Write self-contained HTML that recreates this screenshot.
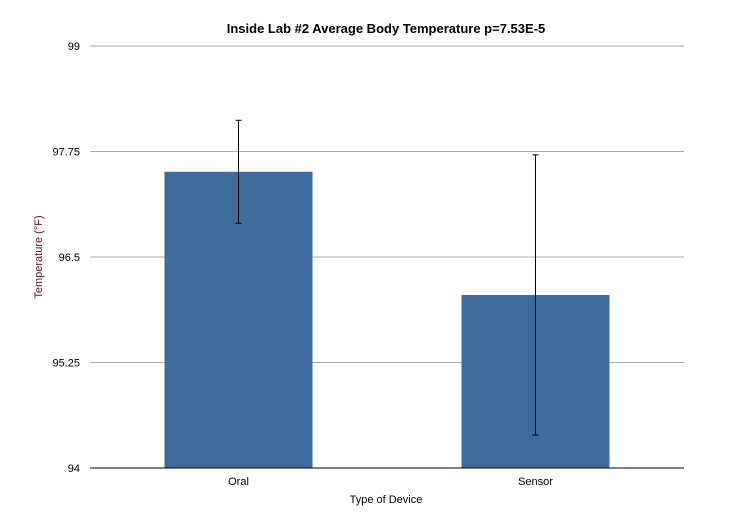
<!DOCTYPE html>
<html><head><meta charset="utf-8"><style>
body{margin:0;background:#fff;font-family:"Liberation Sans",sans-serif;}
</style></head><body>
<svg width="740" height="519" id="c" xmlns="http://www.w3.org/2000/svg">
<text x="386" y="33" text-anchor="middle" font-size="13" font-weight="bold" font-family="Liberation Sans">Inside Lab #2 Average Body Temperature p=7.53E-5</text>
<text transform="translate(42,257) rotate(-90)" text-anchor="middle" font-size="11" fill="#5a1a1a" font-family="Liberation Sans">Temperature (°F)</text>
<text x="386" y="503" text-anchor="middle" font-size="11" font-family="Liberation Sans">Type of Device</text>
<g id="grid"></g><g id="bars"></g><g id="err"></g>
<line x1="90" y1="468" x2="684" y2="468" stroke="#000" stroke-width="1"/>
</svg>
<script>
const categories=["Oral","Sensor"];
const values=[97.51,96.05];
const errors=[0.61,1.66];
const yTicks=[94,95.25,96.5,97.75,99];
const yTickLabels=["94","95.25","96.5","97.75","99"];
const ns="http://www.w3.org/2000/svg";
const L=90,R=684,T=46,B=468,yMin=94,yMax=99;
const y=v=>B-(v-yMin)/(yMax-yMin)*(B-T);
const band=(R-L)/categories.length;
const x=i=>L+band*(i+0.5);
function mk(t,a,p){const e=document.createElementNS(ns,t);for(const k in a)e.setAttribute(k,a[k]);p.appendChild(e);return e;}
const g=document.getElementById('grid'),bg=document.getElementById('bars'),eg=document.getElementById('err');
yTicks.forEach((v,i)=>{
 if(v!==yMin){const l=mk('line',{x1:L,x2:R,y1:y(v),y2:y(v),stroke:'#aaa','stroke-width':1},g);
 
 }
 const t=mk('text',{x:80,y:y(v)+4,'text-anchor':'end','font-size':11,'font-family':'Liberation Sans'},g);t.textContent=yTickLabels[i];
 
 
});
categories.forEach((c,i)=>{
 const bw=148,cx=x(i);
 const r=mk('rect',{x:cx-bw/2,y:y(values[i]),width:bw,height:B-y(values[i]),fill:'#3d6b9b'},bg);
 
 
 const t=mk('text',{x:cx,y:485,'text-anchor':'middle','font-size':11,'font-family':'Liberation Sans'},bg);t.textContent=c;
 
 
 const hi=y(values[i]+errors[i]),lo=y(values[i]-errors[i]);
 const eb=mk('g',{stroke:'#000','stroke-width':1},eg);
 
 
 mk('line',{x1:cx,x2:cx,y1:hi,y2:lo},eb);
 mk('line',{x1:cx-3,x2:cx+3,y1:hi,y2:hi},eb);
 mk('line',{x1:cx-3,x2:cx+3,y1:lo,y2:lo},eb);
});
</script>
</body></html>
